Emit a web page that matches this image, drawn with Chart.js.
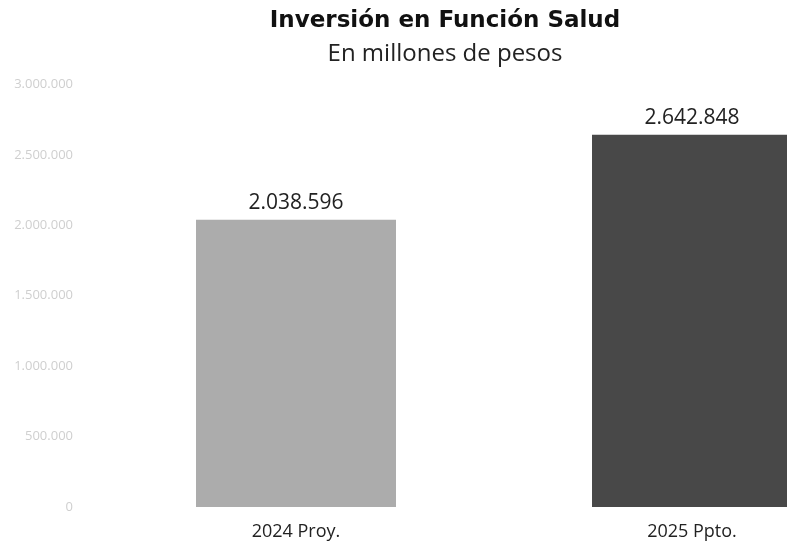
<!DOCTYPE html>
<html>
<head>
<meta charset="utf-8">
<script src="https://cdn.jsdelivr.net/npm/chart.js@4"></script>
<style>
  html, body { margin: 0; padding: 0; background: #fff; overflow: hidden; }
  #wrap { position: relative; width: 890px; height: 547px; }
</style>
</head>
<body>
<div id="wrap"><canvas id="salud_canva"></canvas></div>
<script>
// ----- Inversión en Función Salud -----
const categorias = ['2024 Proy.', '2025 Ppto.'];
const montos = [2038596, 2642848];
const colores = ['rgb(172, 172, 172)', 'rgb(72, 72, 72)'];
const ticks_y = [0, 500000, 1000000, 1500000, 2000000, 2500000, 3000000];

function formatoMiles(v) {
    return String(Math.round(v)).replace(/\B(?=(\d{3})+(?!\d))/g, '.');
}

// etiqueta con el valor encima de cada barra
const etiquetas = {
    id: 'etiquetas',
    afterDatasetsDraw(chart) {
        const ctx = chart.ctx;
        const meta = chart.getDatasetMeta(0);
        ctx.save();
        ctx.font = '21px "Open Sans"';
        ctx.fillStyle = '#222';
        ctx.textAlign = 'center';
        ctx.textBaseline = 'middle';
        meta.data.forEach((bar, i) => {
            ctx.fillText(formatoMiles(montos[i]), bar.x, bar.y - 17);
        });
        ctx.restore();
    }
};

const data_salud = {
    labels: categorias,
    datasets: [{
        label: 'Inversión',
        data: montos,
        backgroundColor: colores,
        borderWidth: 0,
        categoryPercentage: 1,
        barPercentage: 0.505
    }]
};

const config_salud = {
    type: 'bar',
    data: data_salud,
    plugins: [etiquetas],
    options: {
        responsive: true,
        maintainAspectRatio: false,
        animation: false,
        layout: { padding: { top: 7, right: 0, bottom: 4, left: 0 } },
        plugins: {
            legend: { display: false },
            tooltip: { enabled: false },
            title: {
                display: true,
                text: 'Inversión en Función Salud',
                color: '#111',
                font: { family: 'DejaVu Sans', size: 23, weight: 'bold' },
                padding: { top: 0, bottom: 5 }
            },
            subtitle: {
                display: true,
                text: 'En millones de pesos',
                color: '#222',
                font: { family: 'Open Sans', size: 24 },
                padding: { top: 0, bottom: 16 }
            }
        },
        scales: {
            x: {
                afterFit(scale) { scale.height = 36; },
                grid: { display: false },
                border: { display: false },
                ticks: {
                    color: '#222',
                    font: { family: 'Open Sans', size: 18 },
                    padding: 6
                }
            },
            y: {
                min: 0,
                max: 3000000,
                afterFit(scale) { scale.width = 98; },
                afterBuildTicks(scale) { scale.ticks = ticks_y.map(v => ({ value: v })); },
                grid: { display: false },
                border: { display: false },
                ticks: {
                    color: '#cfcfcf',
                    font: { family: 'Open Sans', size: 13 },
                    padding: 17,
                    callback: v => formatoMiles(v)
                }
            }
        }
    }
};

var salud = new Chart(
    document.getElementById('salud_canva'),
    config_salud
);
</script>
</body>
</html>
